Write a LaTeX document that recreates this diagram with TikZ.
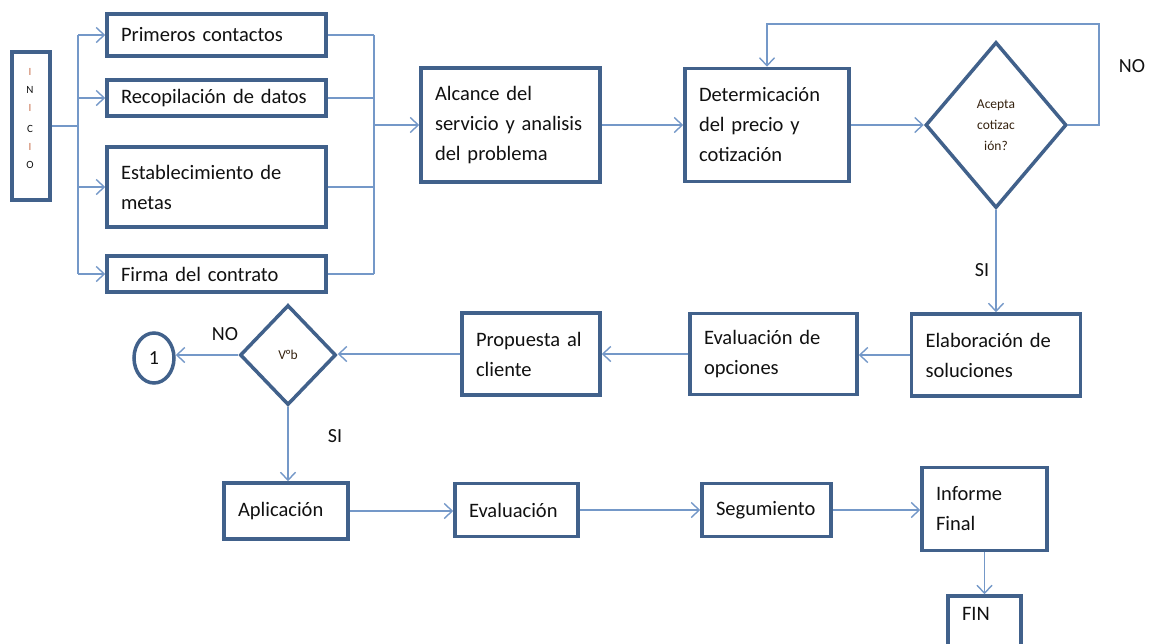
\documentclass[tikz,border=0pt]{standalone}
\usepackage{fontspec}
\setmainfont{Carlito}[WordSpace=0.6]
\usetikzlibrary{shapes.geometric,arrows.meta}
\definecolor{boxc}{HTML}{41618B}
\definecolor{linec}{HTML}{7498C8}
\definecolor{txt}{HTML}{111111}
\definecolor{ic}{HTML}{C8704E}
\begin{document}
\begin{tikzpicture}[x=1pt,y=-1pt,
  box/.style={draw=boxc,line width=3.5pt,fill=white,align=left,inner sep=0pt,
    text=txt,font=\fontsize{20.5}{30}\selectfont},
  dia/.style={draw=boxc,line width=3.5pt,fill=white,shape=diamond,inner sep=0pt,
    align=center,text=txt!85!orange,font=\fontsize{13.5}{21}\selectfont},
  conn/.style={draw=linec,line width=1.6pt},
  arr/.style={conn,-{Straight Barb[length=8pt,width=15pt,line width=1.4pt]}},
  lbl/.style={text=txt,font=\fontsize{20}{24}\selectfont}]
\useasboundingbox (0,0) rectangle (1160,643);

% INICIO
\node[draw=boxc,line width=3.5pt,minimum width=38pt,minimum height=148pt,inner sep=0pt] (ini) at (31,126) {};
\foreach \l/\y/\c in {I/72/ic,N/90/txt,I/108/ic,C/129/txt,I/147/ic,O/165/txt}
  \node[text=\c,font=\fontsize{11}{11}\selectfont] at (30,\y) {\l};

% first column
\node[box,minimum width=219pt,minimum height=42pt,text width=191pt] (pc) at (216.5,35) {Primeros contactos};
\node[box,minimum width=219pt,minimum height=36pt,text width=191pt] (rd) at (216.5,98) {Recopilación de datos};
\node[box,minimum width=219pt,minimum height=80pt,text width=191pt] (em) at (216.5,187) {Establecimiento de\\metas};
\node[box,minimum width=219pt,minimum height=36pt,text width=191pt] (fc) at (216.5,274) {Firma del contrato};

\node[box,minimum width=179pt,minimum height=114pt,text width=151pt] (al) at (510.5,125) {Alcance del\\servicio y analisis\\del problema};
\node[box,minimum width=164pt,minimum height=113pt,text width=136pt] (dp) at (767,125) {Determicación\\del precio y\\cotización};
\node[dia,minimum width=141pt,minimum height=166pt] (ac) at (996,125) {Acepta\\cotizac\\ión?};

% second row
\node[box,minimum width=169pt,minimum height=82pt,text width=141pt] (es) at (996,355) {Elaboración de\\soluciones};
\node[box,minimum width=167pt,minimum height=81pt,text width=139pt] (eo) at (773.5,354) {Evaluación de\\opciones};
\node[box,minimum width=138pt,minimum height=82pt,text width=110pt] (pr) at (531,354) {Propuesta al\\cliente};
\node[dia,minimum width=96pt,minimum height=100pt] (vb) at (288,355) {V°b};
\node[draw=boxc,line width=3.5pt,ellipse,minimum width=40pt,minimum height=50pt,inner sep=0pt,
  text=txt,font=\fontsize{20}{24}\selectfont] (one) at (154,358) {1};

% third row
\node[box,minimum width=124pt,minimum height=56pt,text width=96pt] (ap) at (286,511) {Aplicación};
\node[box,minimum width=123pt,minimum height=53pt,text width=95pt] (ev) at (516.5,510) {Evaluación};
\node[box,minimum width=129pt,minimum height=53pt,text width=101pt] (sg) at (766.5,510) {Segumiento};
\node[box,minimum width=125pt,minimum height=83pt,text width=97pt] (inf) at (984.5,509) {Informe\\Final};
\node[box,minimum width=73pt,minimum height=64pt,text width=45pt,text height=14pt,text depth=30pt] (fin) at (984.5,628) {FIN};

% connectors: left bus
\coordinate (lb) at (78,126);
\draw[conn] (ini.east) -- (lb);
\draw[conn] (lb |- pc.west) -- (lb |- fc.west);
\foreach \n in {pc,rd,em,fc}
  \draw[arr] (lb |- \n.west) -- (\n.west);

% right bus
\coordinate (rb) at (374,125);
\foreach \n in {pc,rd,em,fc}
  \draw[conn] (\n.east) -- (rb |- \n.east);
\draw[conn] (rb |- pc.east) -- (rb |- fc.east);
\draw[arr] (rb) -- (al.west);

\draw[arr] (al.east) -- (dp.west);
\draw[arr] (dp.east) -- (ac.west);
\coordinate (loop) at (1099,24);
\draw[arr] (ac.east) -| (loop) -| (dp.north);
\node[lbl] (no1) at (1132,66) {NO};
\draw[arr] (ac.south) -- (es.north);
\node[lbl] (si1) at (982,270) {SI};

\draw[arr] (es.west) -- (es.west -| eo.east);
\draw[arr] (eo.west) -- (eo.west -| pr.east);
\draw[arr] (pr.west) -- (pr.west -| vb.east);
\draw[arr] (vb.west) -- (vb.west -| one.east);
\node[lbl] (no2) at (225,334) {NO};
\draw[arr] (vb.south) -- (vb.south |- ap.north);
\node[lbl] (si2) at (335,436) {SI};

\draw[arr] (ap.east) -- (ap.east -| ev.west);
\draw[arr] (ev.east) -- (ev.east -| sg.west);
\draw[arr] (sg.east) -- (sg.east -| inf.west);
\draw[arr] (inf.south) -- (inf.south |- fin.north);
\end{tikzpicture}
\end{document}
